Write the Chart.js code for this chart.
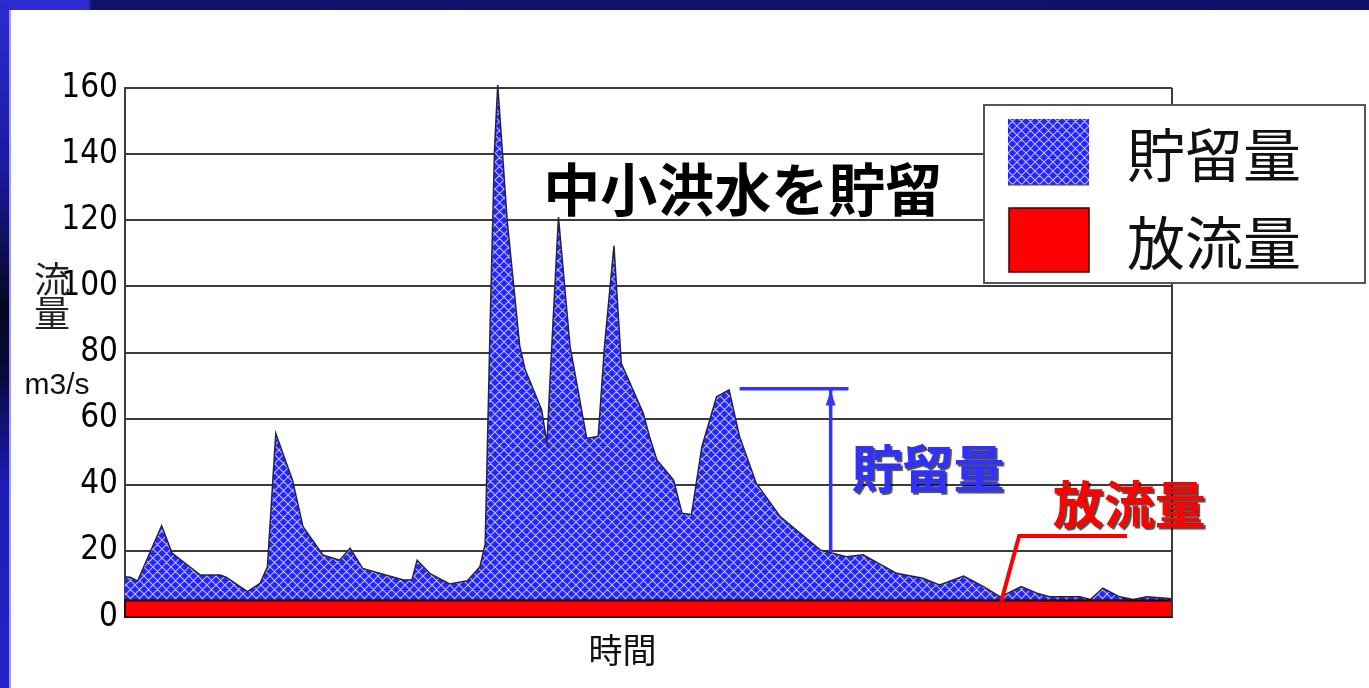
<!DOCTYPE html>
<html><head><meta charset="utf-8">
<script src="https://cdn.jsdelivr.net/npm/chart.js@4.4.1/dist/chart.umd.min.js"></script>
<style>
html,body{margin:0;padding:0;background:#fff;overflow:hidden}
#wrap{position:relative;width:1369px;height:688px;background:#fff}
#c{position:absolute;left:0;top:0}
#topbar{position:absolute;left:0;top:0;width:1369px;height:10px;background:linear-gradient(to right,#2c2cd0 0,#2c2cd0 88px,#12126e 92px,#10106a 100%)}
#leftbar{position:absolute;left:0;top:0;width:10px;height:688px;background:linear-gradient(to bottom,#2c2cd0 0%,#1a1a9a 25%,#06061e 45%,#0a0a40 55%,#1c1cb0 70%,#2424c8 100%)}
#leftedge{position:absolute;left:9px;top:10px;width:2px;height:678px;background:#9a9aff}
</style></head>
<body>
<div id="wrap">
<canvas id="c" width="1369" height="688"></canvas>
<div id="topbar"></div><div id="leftbar"></div><div id="leftedge"></div>
</div>
<script>
// ---- data ----
const times = [0,0.5,1.2,3.5,4.5,7.2,9.1,9.7,11.7,12.9,13.6,14.4,16.0,17.0,18.9,20.5,21.5,22.7,26.6,27.4,27.9,29.1,31.0,32.7,33.9,34.4,34.9,35.3,35.6,36.5,37.7,38.2,39.8,40.3,40.6,41.4,42.5,44.1,45.2,45.8,46.7,47.4,49.5,50.1,50.8,52.4,53.2,54.1,55.1,56.5,57.7,58.7,60.3,62.6,66.4,68.9,70.5,73.7,76.2,77.8,80.1,82.0,83.6,85.6,87.1,88.3,91.2,92.2,93.4,95.0,96.3,97.6,100];
const storageFlow = [12.2,12,10.9,27.6,19.3,12.7,12.7,12,7.7,10.2,15.2,55.5,41.4,27.3,18.8,17.2,20.8,14.7,11.2,11.2,17.2,13.2,10,11,15.2,22,92,142,161,120,82,75,62.6,52.5,72,121,82,54,54.7,82,112.3,76.7,61.6,54.5,47.5,41.4,31.4,31,51.5,66.6,68.7,54.5,40.4,30.3,20.3,18.2,18.8,13.2,11.7,9.7,12.4,9.2,6.1,9.2,7.2,6.1,6.1,5.3,8.7,6.1,5.3,6.1,5.5];
const releaseTimes = [0, 100];
const releaseFlow = [5, 5];
const yTicks = [0,20,40,60,80,100,120,140,160];
const seriesNames = ['貯留量','放流量'];
const yTitleChars = ['流','量'];
const yUnit = 'm3/s';
const xTitle = '時間';
const noteTitle = '中小洪水を貯留';
const noteStorage = '貯留量';
const noteRelease = '放流量';

const canvas = document.getElementById('c');
const ctx = canvas.getContext('2d');

function makePattern(){
  const s = 9, c = document.createElement('canvas');
  c.width = s; c.height = s;
  const g = c.getContext('2d');
  g.fillStyle = '#2424ff'; g.fillRect(0,0,s,s);
  g.strokeStyle = 'rgba(205,205,255,0.9)'; g.lineWidth = 1.1;
  g.beginPath();
  for (const k of [-s,0,s]) { g.moveTo(k,0); g.lineTo(k+s,s); g.moveTo(k+s,0); g.lineTo(k,s); }
  g.stroke();
  return ctx.createPattern(c,'repeat');
}
const pattern = makePattern();

const NUMFONT = "'Liberation Sans Narrow','Arial Narrow','DejaVu Sans Condensed',sans-serif";
const CJK = "'Noto Sans CJK JP','Noto Sans CJK SC',sans-serif";

const decor = {
  id: 'decor',
  afterDatasetsDraw(chart){
    const c = chart.ctx, xs = chart.scales.x, ys = chart.scales.y, a = chart.chartArea;
    const X = v => xs.getPixelForValue(v), Y = v => ys.getPixelForValue(v);
    c.save();
    // release band outline
    c.strokeStyle = '#3a0000'; c.lineWidth = 2;
    c.strokeRect(a.left, Y(releaseFlow[0]), a.right - a.left, Y(0) - Y(releaseFlow[0]));
    // right frame
    c.strokeStyle = '#3c3c3c'; c.lineWidth = 2;
    c.beginPath(); c.moveTo(a.right, a.top); c.lineTo(a.right, a.bottom); c.stroke();

    // title note
    c.fillStyle = '#000'; c.font = "bold 57px " + CJK;
    c.textAlign = 'center'; c.textBaseline = 'middle';
    c.fillText(noteTitle, X(59.0), Y(129.2));

    // storage arrow
    c.strokeStyle = '#3535ff'; c.fillStyle = '#3535ff'; c.lineWidth = 3.5;
    c.beginPath(); c.moveTo(X(58.7), Y(69)); c.lineTo(X(69.1), Y(69)); c.stroke();
    c.beginPath(); c.moveTo(X(67.4), Y(69)); c.lineTo(X(67.4), Y(19.7)); c.stroke();
    c.beginPath(); c.moveTo(X(67.4), Y(68.5)); c.lineTo(X(67.4)-5, Y(64)); c.lineTo(X(67.4)+5, Y(64)); c.closePath(); c.fill();

    // release leader
    c.strokeStyle = '#ff0000'; c.lineWidth = 4;
    c.beginPath(); c.moveTo(X(83.7), Y(4.8)); c.lineTo(X(85.4), Y(24.5)); c.lineTo(X(95.7), Y(24.5)); c.stroke();

    // colored notes with shadow
    c.textAlign = 'left'; c.font = "bold 51px " + CJK;
    c.shadowColor = 'rgba(0,0,0,0.7)'; c.shadowOffsetX = 2; c.shadowOffsetY = 2; c.shadowBlur = 1;
    c.fillStyle = '#3030ff'; c.fillText(noteStorage, X(69.4), Y(45));
    c.fillStyle = '#ff0000'; c.fillText(noteRelease, X(88.6), Y(33.9));
    c.restore();
  },
  afterDraw(chart){
    const c = chart.ctx, a = chart.chartArea;
    c.save();
    // legend box
    c.fillStyle = '#fff'; c.fillRect(984,105,381,178);
    c.strokeStyle = '#555'; c.lineWidth = 2; c.strokeRect(984,105,381,178);
    c.fillStyle = pattern; c.fillRect(1008,119,81,66);
    c.strokeStyle = '#555530'; c.lineWidth = 1; c.beginPath(); c.moveTo(1008,185); c.lineTo(1089,185); c.stroke();
    c.fillStyle = '#ff0000'; c.fillRect(1009,208,80,64);
    c.strokeStyle = '#3a0000'; c.lineWidth = 1.5; c.strokeRect(1009,208,80,64);
    c.fillStyle = '#111'; c.font = "400 58px " + CJK; c.textAlign = 'left'; c.textBaseline = 'middle';
    c.fillText(seriesNames[0], 1127, 155);
    c.fillText(seriesNames[1], 1127, 243);

    // axis titles
    c.textAlign = 'center';
    c.font = "400 36px " + CJK; c.fillStyle = '#222';
    c.fillText(yTitleChars[0], 52, 279);
    c.fillText(yTitleChars[1], 52, 313);
    c.font = "30px 'Liberation Sans',sans-serif"; c.fillStyle = '#111';
    c.fillText(yUnit, 57, 386);
    c.font = "400 34px " + CJK; c.fillStyle = '#111';
    c.fillText(xTitle, (a.left + a.right)/2 - 26, 650);
    c.restore();
  }
};

new Chart(ctx, {
  type: 'line',
  data: {
    datasets: [
      { label: seriesNames[0], data: times.map((t,i)=>({x:t, y:storageFlow[i]})),
        fill: 'origin', backgroundColor: pattern, borderColor: '#23234a', borderWidth: 1.5,
        pointRadius: 0, tension: 0, order: 2, clip: false },
      { label: seriesNames[1], data: releaseTimes.map((t,i)=>({x:t, y:releaseFlow[i]})),
        fill: 'origin', backgroundColor: '#ff0000', borderColor: '#3a0000', borderWidth: 2,
        pointRadius: 0, tension: 0, order: 1 }
    ]
  },
  options: {
    responsive: false, animation: false,
    layout: { padding: { left: 0, right: 197, top: 88, bottom: 71 } },
    plugins: { legend: { display: false }, tooltip: { enabled: false } },
    scales: {
      x: { type: 'linear', min: 0, max: 100, display: false },
      y: { min: 0, max: 160,
           afterFit(s){ s.width = 125; },
           afterBuildTicks(s){ s.ticks = yTicks.map(v => ({value: v})); },
           ticks: { padding: 7, color: '#000', font: { family: NUMFONT, size: 33 } },
           grid: { color: '#3c3c3c', lineWidth: 2, drawTicks: false },
           border: { color: '#3c3c3c', width: 2 } }
    }
  },
  plugins: [decor]
});
</script>
</body></html>
